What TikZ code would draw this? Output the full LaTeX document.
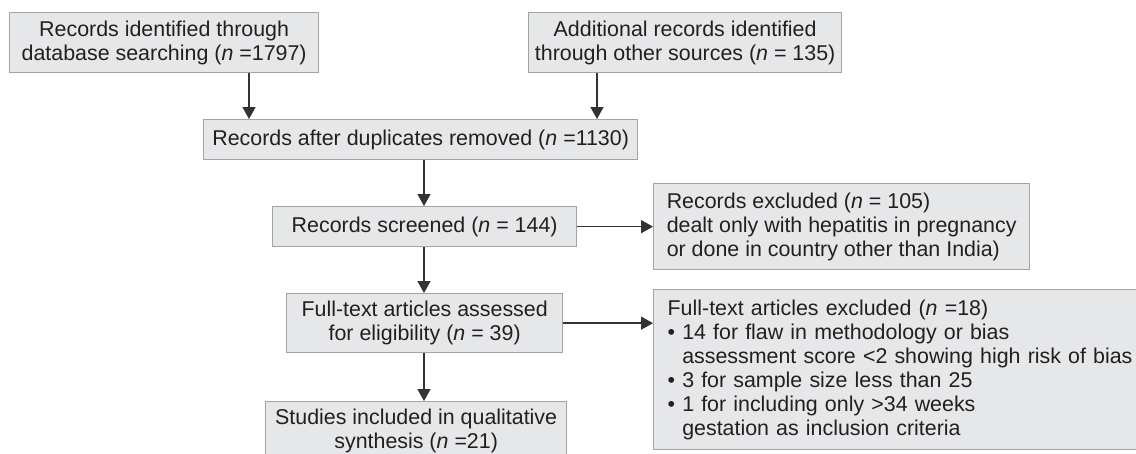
\documentclass[tikz,border=0pt]{standalone}
\usepackage{fontspec}
\setmainfont{Liberation Sans}
\usetikzlibrary{arrows.meta}
\definecolor{boxfill}{HTML}{E6E7E9}
\definecolor{boxline}{HTML}{A3A3A3}
\definecolor{txt}{HTML}{231F20}
\definecolor{arrcol}{HTML}{333333}
\newcommand{\fsz}{\fontsize{21.4}{24}\selectfont}
\newcommand{\bul}{\textbullet\ }
\newcommand{\ind}{\hphantom{\textbullet\ }}
\tikzset{
  box/.style={draw=boxline, fill=boxfill, line width=1.3pt, text=txt, font=\fsz, inner sep=0pt, align=center, anchor=north west},
  lbox/.style={box, align=left},
  arr/.style={draw=arrcol, line width=1.6pt, -{Triangle[width=13pt,length=12pt]}}
}
\begin{document}
\begin{tikzpicture}[x=1pt,y=1pt]
\useasboundingbox (0,0) rectangle (1136,-453);
\node[box, minimum width=309pt, minimum height=60pt] (b1) at (9,-12) {Records identified through\\database searching (\textit{n} =1797)};
\node[box, minimum width=313pt, minimum height=60pt] (b2) at (528,-12) {Additional records identified\\through other sources (\textit{n} = 135)};
\node[box, minimum width=434pt, minimum height=40pt] (b3) at (203,-119) {Records after duplicates removed (\textit{n} =1130)};
\node[box, minimum width=304pt, minimum height=40pt] (b4) at (272,-206) {Records screened (\textit{n} = 144)};
\node[lbox, minimum width=376pt, minimum height=86pt] (b5) at (653,-183) {Records excluded (\textit{n} = 105)\\dealt only with hepatitis in pregnancy\\or done in country other than India)};
\node[box, minimum width=276pt, minimum height=59pt] (b6) at (286,-293) {Full-text articles assessed\\for eligibility (\textit{n} = 39)};
\node[lbox, minimum height=160pt, text width=600pt, inner xsep=14pt] (b7) at (653,-289) {Full-text articles excluded (\textit{n} =18)\\\bul 14 for flaw in methodology or bias\\\ind assessment score <2 showing high risk of bias\\\bul 3 for sample size less than 25\\\bul 1 for including only >34 weeks\\\ind gestation as inclusion criteria};
\node[box, minimum width=301pt, minimum height=59pt] (b8) at (265,-401) {Studies included in qualitative\\synthesis (\textit{n} =21)};
\coordinate (xa) at (249,0);
\coordinate (xb) at (597,0);
\coordinate (xc) at (424,0);
\draw[arr] (b1.south -| xa) -- (b3.north -| xa);
\draw[arr] (b2.south -| xb) -- (b3.north -| xb);
\draw[arr] (b3.south -| xc) -- (b4.north -| xc);
\draw[arr] (b4.south -| xc) -- (b6.north -| xc);
\draw[arr] (b6.south -| xc) -- (b8.north -| xc);
\draw[arr] (b4.east) -- (b5.west |- b4.east);
\draw[arr] (b6.east) -- (b7.west |- b6.east);
\end{tikzpicture}
\end{document}
